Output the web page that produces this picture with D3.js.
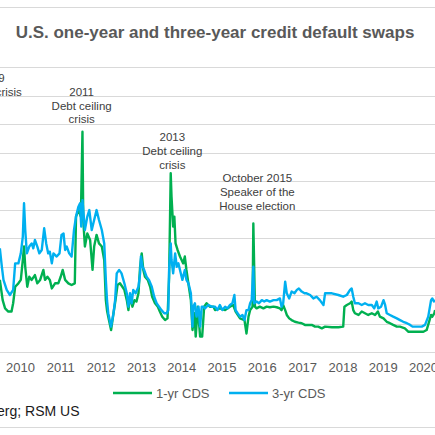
<!DOCTYPE html>
<html>
<head>
<meta charset="utf-8">
<script src="https://cdn.jsdelivr.net/npm/d3@7"></script>
<style>
  html, body { margin: 0; padding: 0; background: #fff; }
  svg { display: block; font-family: "Liberation Sans", Arial, sans-serif; }
</style>
</head>
<body>
<svg id="chart" width="435" height="435"></svg>
<script>
// Chart size
const WIDTH = 435;
const HEIGHT = 435;

// Title and source
const TITLE = "U.S. one-year and three-year credit default swaps";
const SOURCE = "Source: Bloomberg; RSM US";

// Year tick labels and value gridlines
const YEARS = d3.range(2010, 2021);
const GRID_VALUES = d3.range(10, 101, 10);

// Series names
const SERIES_NAMES = ["1-yr CDS", "3-yr CDS"];

// 1-yr CDS, [decimal year, bps]
const cds1 = [
  [2009.50, 25.3], [2009.57, 18.2], [2009.63, 15.3], [2009.71, 14.2], [2009.79, 14.2],
  [2009.83, 17.1], [2009.88, 22.9], [2009.96, 24.1], [2010.02, 25.3], [2010.07, 32.3],
  [2010.10, 37.0], [2010.13, 29.9], [2010.18, 22.9], [2010.23, 26.4], [2010.29, 25.3],
  [2010.37, 27.0], [2010.43, 24.1], [2010.50, 25.3], [2010.58, 28.8], [2010.62, 25.3],
  [2010.68, 26.4], [2010.74, 25.3], [2010.79, 22.3], [2010.87, 24.1], [2010.95, 24.1],
  [2011.01, 26.4], [2011.06, 28.8], [2011.12, 25.3], [2011.20, 24.1], [2011.28, 23.5],
  [2011.36, 24.1], [2011.39, 47.5], [2011.45, 49.8], [2011.51, 47.5], [2011.55, 77.3],
  [2011.57, 46.3], [2011.61, 37.0], [2011.67, 41.6], [2011.74, 39.3], [2011.80, 28.8],
  [2011.84, 37.0], [2011.90, 41.1], [2011.96, 38.1], [2012.03, 37.0], [2012.09, 32.3],
  [2012.13, 18.2], [2012.16, 14.5], [2012.19, 12.4], [2012.26, 7.7], [2012.32, 13.6],
  [2012.37, 18.2], [2012.42, 23.5], [2012.48, 24.1], [2012.54, 22.9], [2012.59, 21.8],
  [2012.65, 18.2], [2012.69, 14.7], [2012.73, 19.4], [2012.79, 15.9], [2012.84, 18.2],
  [2012.89, 17.7], [2012.94, 20.6], [2012.98, 29.9], [2013.02, 34.6], [2013.06, 28.8],
  [2013.10, 26.4], [2013.17, 25.3], [2013.23, 22.9], [2013.28, 19.4], [2013.35, 17.1],
  [2013.42, 15.9], [2013.47, 14.2], [2013.53, 12.4], [2013.60, 11.2], [2013.66, 11.8],
  [2013.70, 26.4], [2013.74, 62.7], [2013.76, 54.5], [2013.80, 44.0], [2013.83, 47.5],
  [2013.86, 38.1], [2013.91, 35.8], [2013.97, 33.5], [2014.01, 32.3], [2014.05, 31.1],
  [2014.09, 33.5], [2014.13, 28.8], [2014.19, 22.9], [2014.24, 18.2], [2014.28, 7.7],
  [2014.33, 13.6], [2014.36, 5.4], [2014.41, 15.9], [2014.47, 5.4], [2014.52, 5.4],
  [2014.57, 15.9], [2014.63, 17.1], [2014.71, 15.9], [2014.80, 15.9], [2014.84, 14.7],
  [2014.96, 15.3], [2015.09, 14.7], [2015.21, 15.9], [2015.29, 16.5], [2015.35, 14.2],
  [2015.46, 11.8], [2015.57, 11.2], [2015.62, 6.5], [2015.67, 12.4], [2015.71, 14.7],
  [2015.77, 15.9], [2015.79, 45.1], [2015.83, 15.9], [2015.87, 15.3], [2015.95, 15.9],
  [2016.04, 15.3], [2016.12, 15.9], [2016.20, 15.7], [2016.29, 15.9], [2016.37, 15.7],
  [2016.45, 15.3], [2016.49, 14.7], [2016.53, 16.5], [2016.58, 14.7], [2016.62, 13.0],
  [2016.68, 11.8], [2016.74, 11.2], [2016.82, 10.6], [2016.91, 10.3], [2016.99, 10.1],
  [2017.07, 9.5], [2017.16, 9.5], [2017.24, 9.5], [2017.32, 8.9], [2017.40, 8.9],
  [2017.49, 8.3], [2017.57, 8.9], [2017.74, 8.7], [2017.90, 8.7], [2018.02, 8.9],
  [2018.05, 15.9], [2018.11, 16.5], [2018.19, 17.1], [2018.23, 17.7], [2018.27, 14.7],
  [2018.31, 13.6], [2018.40, 13.0], [2018.48, 14.2], [2018.56, 13.6], [2018.64, 13.0],
  [2018.73, 13.6], [2018.81, 13.0], [2018.88, 14.2], [2018.93, 12.4], [2019.02, 11.8],
  [2019.10, 10.6], [2019.18, 10.1], [2019.26, 9.5], [2019.35, 8.9], [2019.43, 8.9],
  [2019.55, 8.3], [2019.64, 7.1], [2019.76, 7.1], [2019.88, 7.1], [2020.01, 7.1],
  [2020.09, 7.7], [2020.15, 10.6], [2020.20, 13.0], [2020.23, 12.4], [2020.28, 13.6],
  [2020.30, 14.7]
];

// 3-yr CDS, [decimal year, bps]
const cds3 = [
  [2009.50, 36.4], [2009.55, 29.9], [2009.59, 25.3], [2009.67, 21.8], [2009.75, 20.0],
  [2009.83, 21.8], [2009.88, 31.1], [2009.96, 31.1], [2010.02, 34.6], [2010.07, 40.5],
  [2010.10, 52.2], [2010.13, 42.8], [2010.17, 34.6], [2010.23, 37.0], [2010.29, 38.1],
  [2010.33, 36.4], [2010.37, 39.3], [2010.43, 37.0], [2010.48, 34.6], [2010.54, 35.8],
  [2010.60, 43.4], [2010.65, 38.1], [2010.70, 34.6], [2010.74, 35.2], [2010.79, 31.1],
  [2010.83, 34.6], [2010.91, 33.5], [2010.98, 34.6], [2011.03, 41.1], [2011.08, 41.6],
  [2011.12, 35.8], [2011.16, 37.0], [2011.22, 34.6], [2011.28, 33.5], [2011.34, 42.8],
  [2011.39, 47.5], [2011.45, 51.0], [2011.49, 52.2], [2011.52, 44.0], [2011.55, 53.3],
  [2011.61, 42.8], [2011.67, 47.5], [2011.72, 49.8], [2011.78, 42.8], [2011.84, 46.3],
  [2011.90, 49.8], [2011.96, 46.3], [2012.03, 42.8], [2012.09, 38.1], [2012.13, 25.3],
  [2012.16, 18.0], [2012.19, 13.6], [2012.26, 8.9], [2012.32, 13.6], [2012.36, 18.2],
  [2012.40, 27.6], [2012.46, 28.8], [2012.52, 27.6], [2012.59, 24.1], [2012.65, 20.6],
  [2012.69, 15.9], [2012.73, 20.6], [2012.77, 17.1], [2012.81, 21.8], [2012.87, 20.6],
  [2012.94, 22.9], [2012.98, 27.6], [2013.00, 33.5], [2013.04, 29.9], [2013.08, 28.8],
  [2013.14, 26.4], [2013.20, 25.3], [2013.27, 22.9], [2013.33, 19.4], [2013.39, 17.1],
  [2013.45, 15.9], [2013.51, 14.7], [2013.58, 13.6], [2013.64, 13.6], [2013.68, 14.7],
  [2013.70, 28.8], [2013.74, 38.1], [2013.76, 32.3], [2013.80, 27.6], [2013.85, 34.6],
  [2013.89, 29.9], [2013.93, 31.1], [2013.97, 28.8], [2014.03, 25.3], [2014.09, 28.8],
  [2014.13, 25.3], [2014.18, 24.1], [2014.24, 20.6], [2014.28, 8.9], [2014.30, 15.9],
  [2014.34, 17.1], [2014.38, 12.4], [2014.43, 15.9], [2014.47, 8.9], [2014.51, 15.9],
  [2014.55, 15.9], [2014.59, 15.3], [2014.67, 16.5], [2014.76, 15.9], [2014.84, 15.9],
  [2014.90, 14.7], [2014.96, 16.5], [2015.02, 14.7], [2015.09, 15.9], [2015.15, 15.3],
  [2015.21, 16.5], [2015.27, 17.1], [2015.32, 20.0], [2015.35, 14.7], [2015.40, 13.6],
  [2015.46, 12.4], [2015.52, 13.0], [2015.57, 11.2], [2015.62, 14.7], [2015.67, 14.7],
  [2015.71, 17.1], [2015.75, 18.2], [2015.79, 29.9], [2015.81, 17.1], [2015.87, 17.7],
  [2015.93, 17.1], [2016.00, 18.2], [2016.06, 17.7], [2016.12, 18.2], [2016.20, 17.7],
  [2016.29, 18.2], [2016.37, 18.2], [2016.45, 18.8], [2016.49, 15.9], [2016.53, 17.1],
  [2016.58, 24.7], [2016.62, 20.6], [2016.68, 18.8], [2016.74, 21.2], [2016.81, 20.6],
  [2016.87, 21.8], [2016.92, 22.3], [2016.99, 21.2], [2017.06, 20.6], [2017.11, 20.6],
  [2017.20, 20.0], [2017.28, 18.8], [2017.36, 19.4], [2017.44, 18.2], [2017.53, 16.5],
  [2017.57, 20.6], [2017.74, 20.6], [2017.90, 20.0], [2018.02, 19.4], [2018.11, 20.0],
  [2018.19, 21.8], [2018.23, 22.3], [2018.27, 19.4], [2018.31, 17.1], [2018.40, 17.1],
  [2018.48, 16.5], [2018.56, 17.1], [2018.64, 16.5], [2018.73, 16.5], [2018.79, 15.3],
  [2018.85, 17.7], [2018.89, 15.3], [2018.96, 15.9], [2019.02, 18.2], [2019.06, 16.5],
  [2019.10, 13.6], [2019.18, 13.0], [2019.26, 12.4], [2019.35, 11.8], [2019.43, 11.2],
  [2019.51, 10.6], [2019.60, 10.1], [2019.68, 9.5], [2019.74, 8.9], [2019.84, 8.9],
  [2019.97, 8.9], [2020.05, 9.5], [2020.13, 12.4], [2020.20, 18.2], [2020.23, 18.8],
  [2020.27, 17.7], [2020.30, 18.2]
];

// Event annotations: text lines, date and level of the first line
const annotations = [
  { lines: ["2009", "Credit crisis"], year: 2009.30, value: 94.6 },
  { lines: ["2011", "Debt ceiling", "crisis"], year: 2011.53, value: 89.8 },
  { lines: ["2013", "Debt ceiling", "crisis"], year: 2013.78, value: 74.0 },
  { lines: ["October 2015", "Speaker of the", "House election"], year: 2015.89, value: 59.5 }
];

const GREEN = "#00b050";
const BLUE = "#00b0f0";
const GRID = "#d9d9d9";
const TEXT = "#595959";

const svg = d3.select("#chart");

const x = d3.scaleLinear().domain([2010, 2020]).range([20, 423]);
const y = d3.scaleLinear().domain([0, 100]).range([352, 67]);

// Outer border lines (top and bottom of the chart box)
svg.append("line")
  .attr("x1", 0).attr("x2", WIDTH).attr("y1", 7.5).attr("y2", 7.5)
  .style("stroke", GRID).style("stroke-width", 1.2);
svg.append("line")
  .attr("x1", 0).attr("x2", WIDTH).attr("y1", 427.5).attr("y2", 427.5)
  .style("stroke", GRID).style("stroke-width", 1.2);

// Title
svg.append("text")
  .attr("x", 215)
  .attr("y", 38)
  .attr("text-anchor", "middle")
  .style("font-size", "17px")
  .style("font-weight", "bold")
  .style("fill", TEXT)
  .text(TITLE);

// Horizontal gridlines
svg.append("g")
  .selectAll("line")
  .data(GRID_VALUES)
  .enter()
  .append("line")
  .attr("x1", 0)
  .attr("x2", WIDTH)
  .attr("y1", (d) => Math.round(y(d)) + 0.5)
  .attr("y2", (d) => Math.round(y(d)) + 0.5)
  .style("stroke", GRID)
  .style("stroke-width", 1.2);

// Baseline
svg.append("line")
  .attr("x1", 0).attr("x2", WIDTH)
  .attr("y1", Math.round(y(0)) + 0.5).attr("y2", Math.round(y(0)) + 0.5)
  .style("stroke", GRID).style("stroke-width", 1.2);

// Year labels
const xAxis = svg.append("g")
  .attr("transform", "translate(0," + y(0) + ")")
  .call(d3.axisBottom(x).tickValues(YEARS).tickFormat(d3.format("d")).tickSize(0).tickPadding(11));
xAxis.select(".domain").remove();
xAxis.selectAll("text")
  .style("font-family", "\"Liberation Sans\", Arial, sans-serif")
  .style("font-size", "13px")
  .style("fill", TEXT);

// Annotations
annotations.forEach((a) => {
  const t = svg.append("text")
    .attr("text-anchor", "middle")
    .style("font-size", "11.5px")
    .style("fill", "#404040");
  a.lines.forEach((line, i) => {
    t.append("tspan")
      .attr("x", x(a.year))
      .attr("y", y(a.value) + i * 13.7)
      .text(line);
  });
});

// Series
const line = d3.line()
  .x((d) => x(d[0]))
  .y((d) => y(d[1]));

svg.append("path")
  .datum(cds1)
  .attr("d", line)
  .style("fill", "none")
  .style("stroke", GREEN)
  .style("stroke-width", 2.4)
  .style("stroke-linejoin", "round");

svg.append("path")
  .datum(cds3)
  .attr("d", line)
  .style("fill", "none")
  .style("stroke", BLUE)
  .style("stroke-width", 2.4)
  .style("stroke-linejoin", "round");

// Legend
const legend = svg.append("g");
[[GREEN, 113, 156], [BLUE, 229, 272]].forEach(([color, x0, tx], i) => {
  legend.append("line")
    .attr("x1", x0).attr("x2", x0 + 39)
    .attr("y1", 393).attr("y2", 393)
    .style("stroke", color).style("stroke-width", 2.3);
  legend.append("text")
    .attr("x", tx).attr("y", 397.5)
    .style("font-size", "13px")
    .style("fill", TEXT)
    .text(SERIES_NAMES[i]);
});

// Source
svg.append("text")
  .attr("x", 79.5)
  .attr("y", 416)
  .attr("text-anchor", "end")
  .style("font-size", "14px")
  .style("fill", "#1a1a1a")
  .text(SOURCE);
</script>
</body>
</html>
